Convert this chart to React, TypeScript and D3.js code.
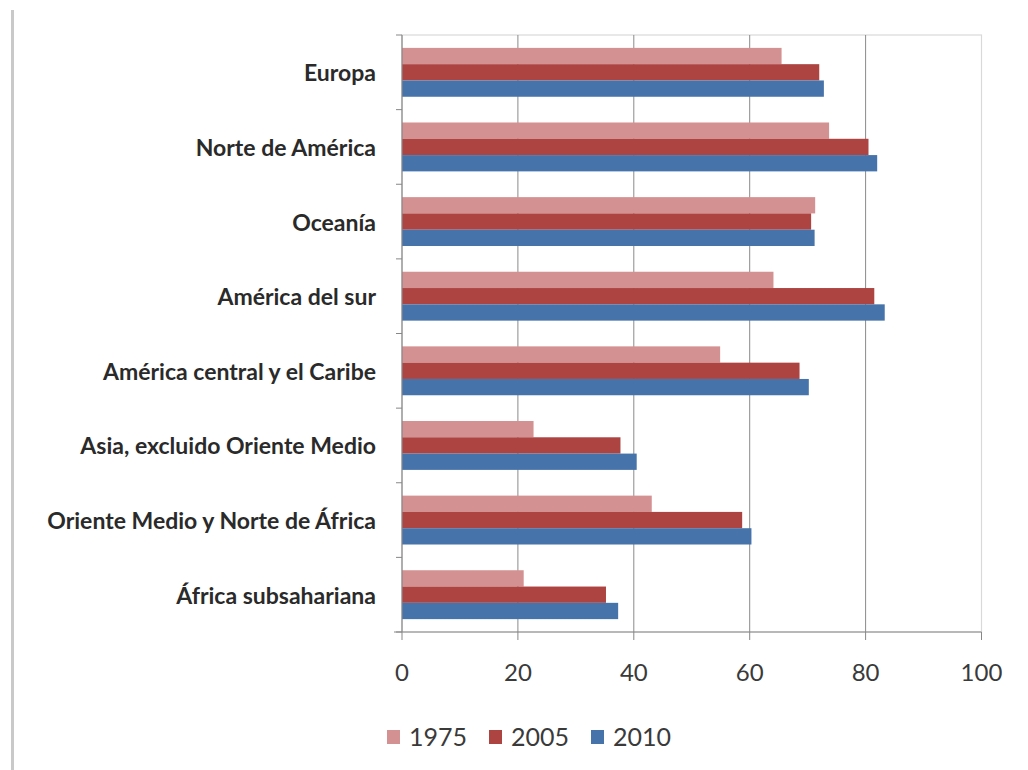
import * as d3 from 'd3'

const categories = [
  'Europa',
  'Norte de América',
  'Oceanía',
  'América del sur',
  'América central y el Caribe',
  'Asia, excluido Oriente Medio',
  'Oriente Medio y Norte de África',
  'África subsahariana',
]

const seriesNames = ['1975', '2005', '2010']
const values1975 = [65.5, 73.7, 71.3, 64.1, 54.9, 22.7, 43.1, 21.0]
const values2005 = [72.0, 80.5, 70.6, 81.5, 68.6, 37.7, 58.7, 35.2]
const values2010 = [72.8, 82.0, 71.2, 83.3, 70.2, 40.5, 60.3, 37.3]
const xTicks = [0, 20, 40, 60, 80, 100]

const seriesValues = [values1975, values2005, values2010]
const colors = ['#d49192', '#ad4442', '#4573aa']

const W = 1028
const H = 770
const font = 'Lato, "Open Sans", sans-serif'

export default function App() {
  // plot area
  const left = 402
  const right = 981.5
  const top = 35
  const bottom = 632

  const x = d3.scaleLinear().domain([0, 100]).range([left, right])
  const y = d3.scaleBand().domain(categories).range([top, bottom]).paddingInner(0).paddingOuter(0)
  const yInner = d3.scaleBand().domain(seriesNames).range([0, y.bandwidth()]).paddingInner(0).paddingOuter(0.79)

  // category boundaries for tick marks
  const boundaries = categories.map(c => y(c) as number).concat([bottom])

  return (
    <svg width={W} height={H} style={{ position: 'absolute', left: 0, top: 0, background: '#fff' }}>
      {/* left gray rule */}
      <rect x={11} y={10} width={3} height={H - 10} fill="#c9c9c9" />

      {/* plot border */}
      <rect x={left} y={top} width={right - left} height={bottom - top} fill="none" stroke="#d9d9d9" strokeWidth={1.2} />

      {/* vertical gridlines */}
      {xTicks.filter(t => t > 0 && t < 100).map(t => (
        <line key={t} x1={x(t)} x2={x(t)} y1={top} y2={bottom} stroke="#8a8a8a" strokeWidth={1} />
      ))}

      {/* bars */}
      {categories.map((c, ci) => (
        <g key={c} transform={`translate(0, ${y(c)})`}>
          {seriesNames.map((s, si) => (
            <rect
              key={s}
              x={x(0)}
              y={yInner(s)}
              width={x(seriesValues[si][ci]) - x(0)}
              height={yInner.bandwidth()}
              fill={colors[si]}
            />
          ))}
        </g>
      ))}

      {/* y axis */}
      <line x1={left} x2={left} y1={top} y2={bottom} stroke="#878787" strokeWidth={1.2} />
      {boundaries.map((b, i) => (
        <line key={i} x1={left - 6} x2={left} y1={b} y2={b} stroke="#878787" strokeWidth={1} />
      ))}

      {/* x axis */}
      <line x1={left - 8} x2={right} y1={bottom} y2={bottom} stroke="#878787" strokeWidth={1.2} />
      {xTicks.map(t => (
        <g key={t}>
          <line x1={x(t)} x2={x(t)} y1={bottom} y2={bottom + 8} stroke="#878787" strokeWidth={1} />
          <text x={x(t)} y={681} textAnchor="middle" fontFamily={font} fontSize={24} fill="#3a3a3a">
            {t}
          </text>
        </g>
      ))}

      {/* category labels */}
      {categories.map(c => (
        <text
          key={c}
          x={376}
          y={(y(c) as number) + y.bandwidth() / 2}
          textAnchor="end"
          dominantBaseline="central"
          fontFamily={font}
          fontWeight={700}
          fontSize={23}
          fill="#2a2a2a"
        >
          {c}
        </text>
      ))}

      {/* legend */}
      {seriesNames.map((s, i) => (
        <g key={s} transform={`translate(${387 + i * 102}, 730)`}>
          <rect x={0} y={0} width={13} height={14} fill={colors[i]} />
          <text x={22} y={15.5} fontFamily={font} fontSize={25} fill="#3a3a3a">
            {s}
          </text>
        </g>
      ))}
    </svg>
  )
}
